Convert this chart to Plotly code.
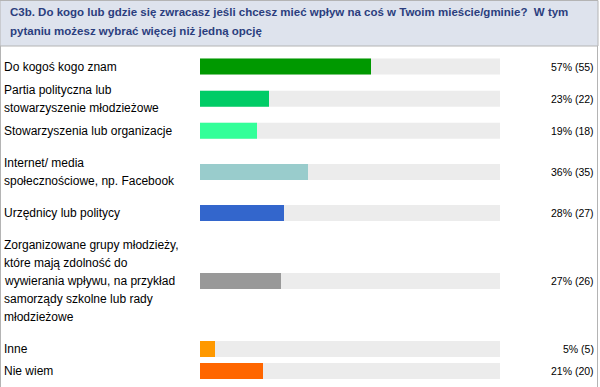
import plotly.graph_objects as go

title_lines = [
    "C3b. Do kogo lub gdzie się zwracasz jeśli chcesz mieć wpływ na coś w Twoim mieście/gminie?  W tym",
    "pytaniu możesz wybrać więcej niż jedną opcję",
]
categories = [
    "Do kogoś kogo znam",
    "Partia polityczna lub\nstowarzyszenie młodzieżowe",
    "Stowarzyszenia lub organizacje",
    "Internet/ media\nspołecznościowe, np. Facebook",
    "Urzędnicy lub politycy",
    "Zorganizowane grupy młodzieży,\nktóre mają zdolność do\nwywierania wpływu, na przykład\nsamorządy szkolne lub rady\nmłodzieżowe",
    "Inne",
    "Nie wiem",
]
percents = [57, 23, 19, 36, 28, 27, 5, 21]
counts = [55, 22, 18, 35, 27, 26, 5, 20]
colors = ["#009900", "#00cc66", "#33ff99", "#99cccc", "#3366cc", "#999999", "#ff9900", "#ff6600"]

# layout (pixel positions of row centres)
row_y = [66.5, 98.7, 130.7, 172, 213, 281, 349, 371]
W, H = 600, 387
FONT = "Liberation Sans"

fig = go.Figure()
fig.add_trace(go.Bar(y=row_y, x=[100] * len(row_y), orientation="h", width=16,
                     marker=dict(color="#ececec", line=dict(width=0)), hoverinfo="skip"))
fig.add_trace(go.Bar(y=row_y, x=percents, orientation="h", width=16,
                     marker=dict(color=colors, line=dict(width=0))))

shapes = [
    dict(type="rect", xref="paper", yref="y", x0=0, x1=598 / W, y0=0.5, y1=46,
         fillcolor="#dee3ed", line=dict(color="#b4b4b4", width=1), layer="below"),
    dict(type="line", xref="paper", yref="y", x0=0.5 / W, x1=0.5 / W, y0=46, y1=H,
         line=dict(color="#b4b4b4", width=1)),
    dict(type="line", xref="paper", yref="y", x0=597.5 / W, x1=597.5 / W, y0=46, y1=H,
         line=dict(color="#b4b4b4", width=1)),
]

ann = []
for i, t in enumerate(title_lines):
    ann.append(dict(x=8 / W, y=12 + 19 * i, xref="paper", yref="y", text="<b>" + t + "</b>",
                    showarrow=False, xanchor="left", yanchor="middle",
                    font=dict(family=FONT, size=11.5, color="#2b3e7e")))
for c, yc, p, n in zip(categories, row_y, percents, counts):
    lines = c.split("\n")
    for j, ln in enumerate(lines):
        ann.append(dict(x=2 / W, y=yc + (j - (len(lines) - 1) / 2) * 18, xref="paper", yref="y",
                        text=ln, showarrow=False, xanchor="left", yanchor="middle",
                        font=dict(family=FONT, size=12, color="#000000")))
    ann.append(dict(x=596 / W, y=yc, xref="paper", yref="y", text=f"{p}% ({n})",
                    showarrow=False, xanchor="right", yanchor="middle",
                    font=dict(family=FONT, size=10.5, color="#000000")))

fig.update_layout(
    width=W, height=H, margin=dict(l=0, r=0, t=0, b=0),
    paper_bgcolor="white", plot_bgcolor="white", barmode="overlay", showlegend=False,
    xaxis=dict(range=[-200 / 3, 400 / 3], visible=False, fixedrange=True),
    yaxis=dict(range=[H, 0], visible=False, fixedrange=True),
    shapes=shapes, annotations=ann,
)
fig.write_html("out.html")
